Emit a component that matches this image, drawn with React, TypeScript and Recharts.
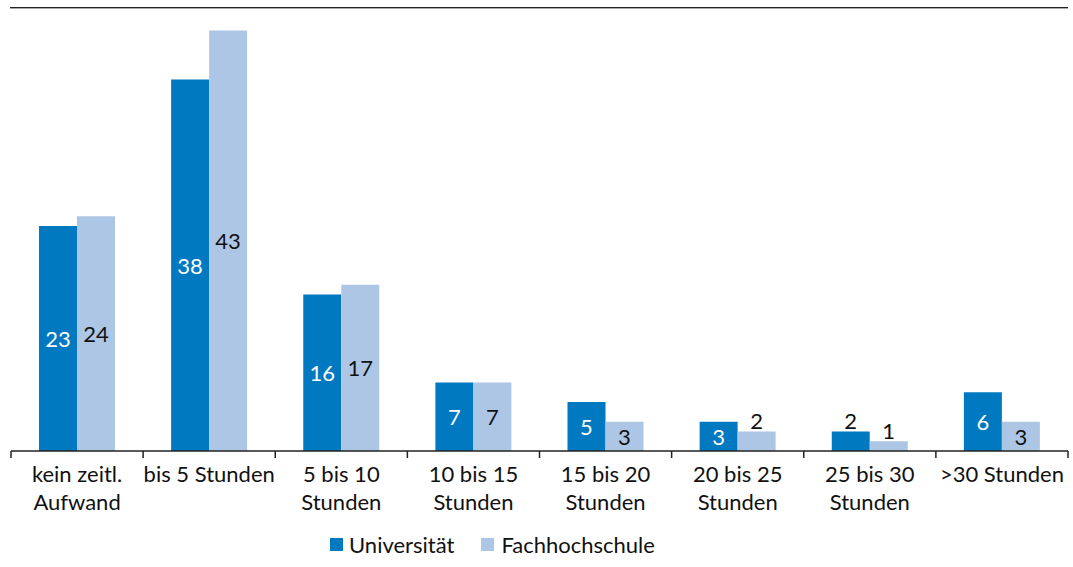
import { BarChart, Bar, XAxis, YAxis, LabelList } from "recharts";

const KATEGORIEN = [
  ["kein zeitl.", "Aufwand"],
  ["bis 5 Stunden"],
  ["5 bis 10", "Stunden"],
  ["10 bis 15", "Stunden"],
  ["15 bis 20", "Stunden"],
  ["20 bis 25", "Stunden"],
  ["25 bis 30", "Stunden"],
  [">30 Stunden"],
];
const UNIVERSITAET = [23, 38, 16, 7, 5, 3, 2, 6];
const FACHHOCHSCHULE = [24, 43, 17, 7, 3, 2, 1, 3];
const GRENZEN = [0, 1, 2, 3, 4, 5, 6, 7, 8];

const FARBE_UNI = "#0079C1";
const FARBE_FH = "#AEC6E6";
const SCHRIFT = "Lato, sans-serif";
const GROESSE = 22;

const data = KATEGORIEN.map((k, i) => ({
  name: String(i),
  pos: i + 0.5,
  uni: UNIVERSITAET[i],
  fh: FACHHOCHSCHULE[i],
}));

function KategorieTick({ x, y, payload }: any) {
  const zeilen = KATEGORIEN[Number(payload.value)] || [];
  return (
    <text x={x} y={y} textAnchor="middle" fill="#111" fontSize={GROESSE} fontFamily={SCHRIFT}>
      {zeilen.map((z, i) => (
        <tspan key={i} x={x} dy={i === 0 ? 22 : 28}>
          {z}
        </tspan>
      ))}
    </text>
  );
}

function wertLabel(farbeInnen: string) {
  return (props: any) => {
    const { x, y, width, height, value } = props;
    const innen = value >= 3;
    return (
      <text
        x={x + width / 2}
        y={innen ? y + height / 2 : y - 11}
        textAnchor="middle"
        dominantBaseline="central"
        fill={innen ? farbeInnen : "#111"}
        fontSize={GROESSE}
        fontFamily={SCHRIFT}
      >
        {value}
      </text>
    );
  };
}

export default function App() {
  return (
    <div style={{ position: "absolute", left: 0, top: 0, width: 1073, height: 567, background: "#fff" }}>
      <div style={{ position: "absolute", left: 10, top: 7, width: 1058, height: 1, background: "#222" }} />
      <div style={{ position: "absolute", left: 10, top: 8, width: 1058, height: 1, background: "#aaa" }} />
      <div style={{ position: "absolute", left: 0, top: 0 }}>
        <BarChart
          width={1073}
          height={567}
          data={data}
          margin={{ top: 11, right: 5, left: 11, bottom: 0 }}
          barGap={0}
          barSize={38}
        >
          <XAxis
            xAxisId="grenzen"
            dataKey="pos"
            type="number"
            domain={[0, 8]}
            allowDataOverflow
            ticks={GRENZEN}
            interval={0}
            tickFormatter={() => ""}
            height={1}
            axisLine={{ stroke: "#222", strokeWidth: 1.5 }}
            tickLine={{ stroke: "#222", strokeWidth: 1.5 }}
            tickSize={7}
          />
          <XAxis
            xAxisId="kat"
            dataKey="name"
            height={115}
            axisLine={false}
            tickLine={false}
            tick={<KategorieTick />}
            interval={0}
          />
          <YAxis hide domain={[0, 45]} />
          <Bar dataKey="uni" xAxisId="kat" fill={FARBE_UNI} isAnimationActive={false}>
            <LabelList dataKey="uni" content={wertLabel("#fff")} />
          </Bar>
          <Bar dataKey="fh" xAxisId="kat" fill={FARBE_FH} isAnimationActive={false}>
            <LabelList dataKey="fh" content={wertLabel("#111")} />
          </Bar>
        </BarChart>
      </div>
      <div
        style={{
          position: "absolute",
          left: 330,
          top: 531,
          display: "flex",
          alignItems: "center",
          fontFamily: SCHRIFT,
          fontSize: GROESSE,
          color: "#111",
        }}
      >
        <span style={{ width: 13, height: 13, background: FARBE_UNI, marginRight: 6 }} />
        <span style={{ marginRight: 27 }}>Universität</span>
        <span style={{ width: 13, height: 13, background: FARBE_FH, marginRight: 7 }} />
        <span>Fachhochschule</span>
      </div>
    </div>
  );
}
